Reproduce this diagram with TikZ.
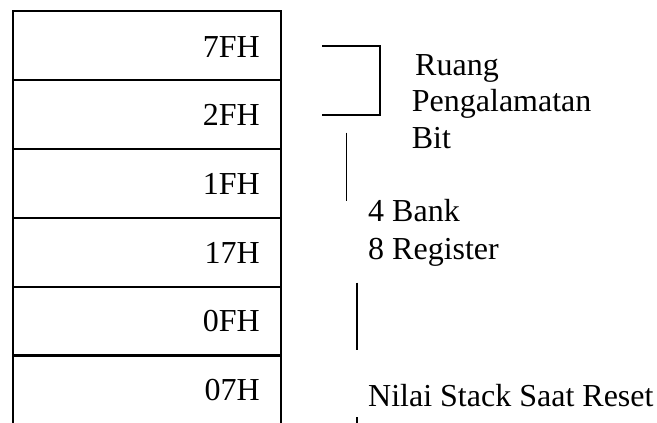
\documentclass[tikz,border=0pt]{standalone}
\usepackage{fontspec}
\setmainfont{Liberation Serif}
\begin{document}
\begin{tikzpicture}[x=1pt,y=-1pt,
  cell/.style={draw,line width=1.7pt,minimum width=268pt,minimum height=69pt,inner sep=0pt,anchor=north west},
  val/.style={anchor=base east,inner sep=0pt,font=\fontsize{32}{36.8}\selectfont},
  lbl/.style={anchor=base west,inner sep=0pt,font=\fontsize{32}{36.8}\selectfont},
  ln/.style={line width=1.3pt}]
\useasboundingbox (0,0) rectangle (657,423);
% memory cells
\node[cell] (c1) at (12,10) {};
\node[cell] (c2) at (12,79) {};
\node[cell] (c3) at (12,148) {};
\node[cell] (c4) at (12,217) {};
\node[cell] (c5) at (12,286) {};
\node[cell] (c6) at (12,354) {};
% values
\node[val] (v1) at (260,57.5) {7FH};
\node[val] (v2) at (260,125.5) {2FH};
\node[val] (v3) at (260,194) {1FH};
\node[val] (v4) at (260,263) {17H};
\node[val] (v5) at (260,331.5) {0FH};
\node[val] (v6) at (260,400) {07H};
% labels
\node[lbl] (r1) at (415,75) {Ruang};
\node[lbl] (r2) at (411.7,111) {Pengalamatan};
\node[lbl] (r3) at (411.7,148) {Bit};
\node[lbl] (b1) at (368,221.7) {4 Bank};
\node[lbl] (b2) at (368,259.3) {8 Register};
\node[lbl] (ns) at (368,406) {Nilai Stack Saat Reset};
% bracket and marker lines
\coordinate (k1) at (322,46);
\coordinate (k2) at (380,46);
\coordinate (k3) at (380,115);
\coordinate (k4) at (322,115);
\draw[ln] (k1) -- (k2) -- (k3) -- (k4);
\coordinate (a1) at (346.7,132.7);
\coordinate (a2) at (346.7,200.7);
\draw[ln] (a1) -- (a2);
\coordinate (d1) at (357,282.7);
\coordinate (d2) at (357,350);
\draw[ln] (d1) -- (d2);
\coordinate (e1) at (357,417);
\coordinate (e2) at (357,425);
\draw[ln] (e1) -- (e2);
\end{tikzpicture}
\end{document}
